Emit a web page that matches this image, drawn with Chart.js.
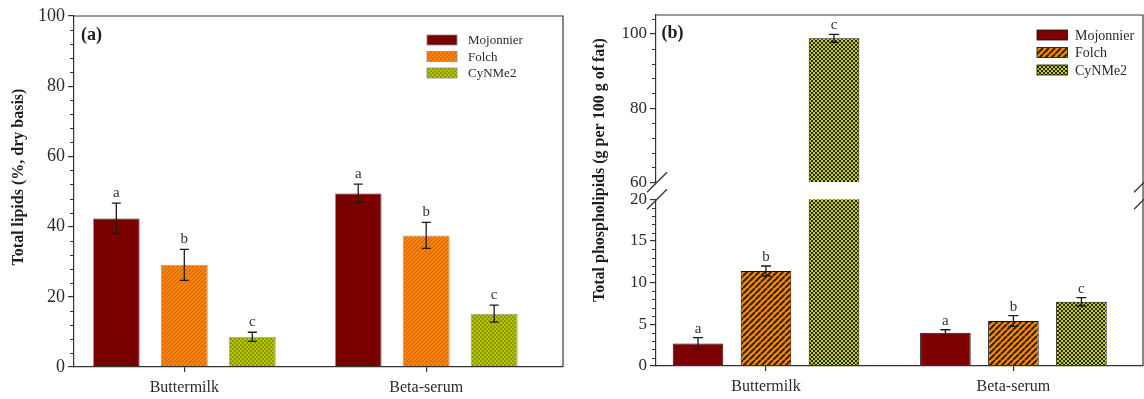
<!DOCTYPE html>
<html>
<head>
<meta charset="utf-8">
<title>Total lipids and phospholipids by extraction method</title>
<script src="https://cdn.jsdelivr.net/npm/chart.js@4.4.1/dist/chart.umd.min.js"></script>
<style>
  html, body { margin: 0; padding: 0; background: #fff; }
  #wrap { position: relative; width: 1144px; height: 399px; overflow: hidden; }
  .panel { position: absolute; top: 0; height: 399px; }
  #panelA { left: 0; width: 575px; }
  #panelB { left: 575px; width: 569px; }
</style>
</head>
<body>
<div id="wrap">
  <div class="panel" id="panelA"><canvas id="chartA"></canvas></div>
  <div class="panel" id="panelB"><canvas id="chartB"></canvas></div>
</div>
<script>
// Sample types on the x axis, extraction methods (one bar each), significance letters
const categories = ['Buttermilk', 'Beta-serum'];
const methods = ['Mojonnier', 'Folch', 'CyNMe2'];
const groupLetters = ['a', 'b', 'c'];

// (a) Total lipids, % dry basis: means and standard deviations
const lipidsMojonnier = [42.4, 49.5];
const lipidsFolch = [29.1, 37.5];
const lipidsCyNMe2 = [8.6, 15.2];
const lipidsMojonnierSd = [4.3, 2.6];
const lipidsFolchSd = [4.4, 3.7];
const lipidsCyNMe2Sd = [1.3, 2.4];
const lipidsTicks = [0, 20, 40, 60, 80, 100];

// (b) Total phospholipids, g per 100 g of fat: means and standard deviations
const phosMojonnier = [2.7, 4.0];
const phosFolch = [11.4, 5.4];
const phosCyNMe2 = [98.8, 7.7];
const phosMojonnierSd = [0.7, 0.35];
const phosFolchSd = [0.6, 0.65];
const phosCyNMe2Sd = [1.1, 0.5];
const phosLowTicks = [0, 5, 10, 15, 20];
const phosHighTicks = [60, 80, 100];

const SERIF = "'Liberation Serif', 'Times New Roman', serif";
const INK = '#2b2b2b';
Chart.defaults.font.family = SERIF;
Chart.defaults.color = INK;

// ---- fill patterns ----
function stripePattern(bg, fg, size, lw) {
  const c = document.createElement('canvas');
  c.width = c.height = size;
  const g = c.getContext('2d');
  g.fillStyle = bg; g.fillRect(0, 0, size, size);
  g.strokeStyle = fg; g.lineWidth = lw;
  g.beginPath();
  for (const o of [-size, 0, size]) { g.moveTo(o, size); g.lineTo(o + size, 0); }
  g.stroke();
  return g.createPattern(c, 'repeat');
}
function checkerPattern(a, b, cell) {
  const c = document.createElement('canvas');
  c.width = c.height = cell * 2;
  const g = c.getContext('2d');
  g.fillStyle = a; g.fillRect(0, 0, cell * 2, cell * 2);
  g.fillStyle = b; g.fillRect(0, 0, cell, cell); g.fillRect(cell, cell, cell, cell);
  return g.createPattern(c, 'repeat');
}

const fillsA = ['#7a0000', stripePattern('#ff8614', '#d96a00', 4, 1.3), checkerPattern('#b4c300', '#8e9b00', 2)];
const fillsB = ['#7f0000', stripePattern('#f08a12', '#3a2200', 6, 2.1), checkerPattern('#c6d000', '#26260a', 2)];

// ---- drawing helpers: clipping per value axis, error bars, letters, frame, legend ----
const figPlugin = {
  id: 'fig',
  beforeDatasetDraw(chart, args) {
    const ys = chart.scales[args.meta.yAxisID];
    const a = chart.chartArea, ctx = chart.ctx;
    ctx.save();
    ctx.beginPath();
    ctx.rect(a.left - 2, ys.top, a.right - a.left + 4, ys.bottom - ys.top);
    ctx.clip();
  },
  afterDatasetDraw(chart) { chart.ctx.restore(); },
  afterDatasetsDraw(chart, args, o) {
    const ctx = chart.ctx;
    chart.data.datasets.forEach((ds, i) => {
      const meta = chart.getDatasetMeta(i);
      const ys = chart.scales[meta.yAxisID];
      ds.data.forEach((pt, j) => {
        const v = pt.y, e = ds.sd[j];
        if (v < ys.min || v > ys.max) return;
        const x = meta.data[j].x;
        const yT = ys.getPixelForValue(v + e), yB = ys.getPixelForValue(v - e);
        ctx.save();
        ctx.strokeStyle = '#1a1a1a'; ctx.lineWidth = 1.3;
        ctx.beginPath();
        ctx.moveTo(x, yT); ctx.lineTo(x, yB);
        ctx.moveTo(x - o.cap, yT); ctx.lineTo(x + o.cap, yT);
        ctx.moveTo(x - o.cap, yB); ctx.lineTo(x + o.cap, yB);
        ctx.stroke();
        ctx.fillStyle = '#333';
        ctx.font = o.letterFont;
        ctx.textAlign = 'center'; ctx.textBaseline = 'alphabetic';
        ctx.fillText(ds.letter, x, yT - o.letterGap);
        ctx.restore();
      });
    });
  },
  afterDraw(chart, args, o) {
    const ctx = chart.ctx, a = chart.chartArea;
    ctx.save();
    // top and right frame
    ctx.strokeStyle = '#3a3a3a'; ctx.lineWidth = 1.2;
    ctx.beginPath();
    ctx.moveTo(a.left, a.top); ctx.lineTo(a.right, a.top); ctx.lineTo(a.right, a.bottom);
    ctx.stroke();
    // minor ticks
    ctx.lineWidth = 1; ctx.strokeStyle = '#333';
    for (const id in o.minor) {
      const s = chart.scales[id], step = o.minor[id];
      const majors = s.ticks.map(t => t.value);
      ctx.beginPath();
      for (let v = Math.ceil(s.min / step) * step; v <= s.max + 1e-9; v += step) {
        if (majors.some(m => Math.abs(m - v) < 1e-6)) continue;
        const y = Math.round(s.getPixelForValue(v)) + 0.5;
        ctx.moveTo(s.right - 4, y); ctx.lineTo(s.right, y);
      }
      ctx.stroke();
    }
    // axis break marks
    if (o.breaks) {
      ctx.lineWidth = 1.3; ctx.strokeStyle = '#333';
      const yb = [chart.scales[o.breaks[1]].bottom, chart.scales[o.breaks[0]].top];
      ctx.beginPath();
      for (const x of [a.left, a.right]) {
        for (const y of yb) { ctx.moveTo(x - 9, y + 10); ctx.lineTo(x + 11, y - 10); }
      }
      ctx.stroke();
    }
    // value axis title
    ctx.fillStyle = '#1e1e1e';
    ctx.font = 'bold 16px ' + SERIF;
    ctx.textAlign = 'center'; ctx.textBaseline = 'middle';
    ctx.translate(o.title.x, o.title.y);
    ctx.rotate(-Math.PI / 2);
    ctx.fillText(o.title.text, 0, 0);
    ctx.setTransform(1, 0, 0, 1, 0, 0);
    // panel tag
    ctx.font = 'bold 18px ' + SERIF;
    ctx.textAlign = 'left';
    ctx.fillText(o.tag.text, o.tag.x, o.tag.y);
    // legend
    const L = o.legend;
    ctx.font = L.font;
    methods.forEach((m, i) => {
      const cy = L.y[i];
      ctx.fillStyle = L.fills[i];
      ctx.fillRect(L.x, cy - L.h / 2, L.w, L.h);
      ctx.strokeStyle = L.edge; ctx.lineWidth = 0.8;
      ctx.strokeRect(L.x, cy - L.h / 2, L.w, L.h);
      ctx.fillStyle = '#2a2a2a';
      ctx.textBaseline = 'middle';
      ctx.fillText(m, L.textX, cy + 1);
    });
    ctx.restore();
  }
};

function xScale(min, max, height) {
  return {
    type: 'linear', position: 'bottom', min, max, offset: false,
    afterBuildTicks: s => { s.ticks = categories.map((c, i) => ({ value: i })); },
    afterFit: s => { s.height = height; },
    ticks: { callback: (v, i) => categories[i], font: { size: 16 }, color: INK, padding: 6, maxRotation: 0, autoSkip: false },
    grid: { display: true, offset: false, drawOnChartArea: false, tickLength: 5, color: '#333', lineWidth: 1.2 },
    border: { display: true, color: '#333', width: 1.2, z: 1 }
  };
}
function yAxis(min, max, tickList, width, fontSize, extra) {
  return Object.assign({
    type: 'linear', position: 'left', min, max, stacked: false,
    afterBuildTicks: s => { s.ticks = tickList.map(v => ({ value: v })); },
    afterFit: s => { s.width = width; },
    ticks: { font: { size: fontSize }, color: INK, padding: 3, autoSkip: false },
    grid: { display: true, drawOnChartArea: false, tickLength: 6, color: '#333', lineWidth: 1.2 },
    border: { display: true, color: '#333', width: 1.2, z: 1 }
  }, extra || {});
}
const pts = arr => arr.map((y, i) => ({ x: i, y }));

// ---------- (a) Total lipids ----------
new Chart(document.getElementById('chartA'), {
  type: 'bar',
  data: {
    datasets: [
      { label: methods[0], data: pts(lipidsMojonnier), sd: lipidsMojonnierSd, letter: groupLetters[0], backgroundColor: fillsA[0] },
      { label: methods[1], data: pts(lipidsFolch), sd: lipidsFolchSd, letter: groupLetters[1], backgroundColor: fillsA[1] },
      { label: methods[2], data: pts(lipidsCyNMe2), sd: lipidsCyNMe2Sd, letter: groupLetters[2], backgroundColor: fillsA[2] }
    ]
  },
  options: {
    responsive: true, maintainAspectRatio: false, animation: false, events: [],
    layout: { padding: { top: 16, right: 12, left: 0, bottom: 0 } },
    datasets: { bar: { categoryPercentage: 0.843, barPercentage: 0.691, borderWidth: 1, borderColor: '#9c9c9c' } },
    scales: {
      x: xScale(-0.456, 1.5655, 32),
      y: yAxis(0, 100, lipidsTicks, 74, 18)
    },
    plugins: {
      legend: { display: false }, tooltip: { enabled: false },
      fig: {
        cap: 4.5, letterFont: '15px ' + SERIF, letterGap: 6,
        minor: { y: 4 },
        breaks: null,
        title: { text: 'Total lipids (%, dry basis)', x: 18.5, y: 177 },
        tag: { text: '(a)', x: 81, y: 35 },
        legend: { x: 427, w: 30, h: 10, y: [40, 56.5, 73], textX: 468, font: '13px ' + SERIF, fills: fillsA, edge: '#8a8a8a' }
      }
    }
  },
  plugins: [figPlugin]
});

// ---------- (b) Total phospholipids, broken value axis ----------
new Chart(document.getElementById('chartB'), {
  type: 'bar',
  data: {
    datasets: [
      { label: methods[0], data: pts(phosMojonnier), sd: phosMojonnierSd, letter: groupLetters[0], backgroundColor: fillsB[0], yAxisID: 'yLow', stack: 'm' },
      { label: methods[1], data: pts(phosFolch), sd: phosFolchSd, letter: groupLetters[1], backgroundColor: fillsB[1], yAxisID: 'yLow', stack: 'f' },
      { label: methods[2], data: pts(phosCyNMe2), sd: phosCyNMe2Sd, letter: groupLetters[2], backgroundColor: fillsB[2], yAxisID: 'yLow', stack: 'c' },
      { label: methods[2], data: pts(phosCyNMe2), sd: phosCyNMe2Sd, letter: groupLetters[2], backgroundColor: fillsB[2], yAxisID: 'yHigh', stack: 'c' }
    ]
  },
  options: {
    responsive: true, maintainAspectRatio: false, animation: false, events: [],
    layout: { padding: { top: 15, right: 1, left: 0, bottom: 0 } },
    datasets: { bar: { categoryPercentage: 0.8246, barPercentage: 0.744, borderWidth: 1, borderColor: '#111' } },
    scales: {
      x: xScale(-0.4446, 1.5238, 33),
      yLow: yAxis(0, 20, phosLowTicks, 81, 17, { stack: 'phos', stackWeight: 166.7 }),
      yGap: {
        type: 'linear', position: 'left', stack: 'phos', stackWeight: 17,
        afterFit: s => { s.width = 81; },
        ticks: { display: false }, grid: { display: false }, border: { display: false }
      },
      yHigh: yAxis(60, 105.1, phosHighTicks, 81, 17, { stack: 'phos', stackWeight: 167.3 })
    },
    plugins: {
      legend: { display: false }, tooltip: { enabled: false },
      fig: {
        cap: 5, letterFont: '15px ' + SERIF, letterGap: 5,
        minor: { yLow: 1, yHigh: 4 },
        breaks: ['yLow', 'yHigh'],
        title: { text: 'Total phospholipids (g per 100 g of fat)', x: 25, y: 170 },
        tag: { text: '(b)', x: 86.5, y: 33.5 },
        legend: { x: 462, w: 30.5, h: 10, y: [35, 52.5, 70], textX: 500, font: '14px ' + SERIF, fills: fillsB, edge: '#111' }
      }
    }
  },
  plugins: [figPlugin]
});
</script>
</body>
</html>
